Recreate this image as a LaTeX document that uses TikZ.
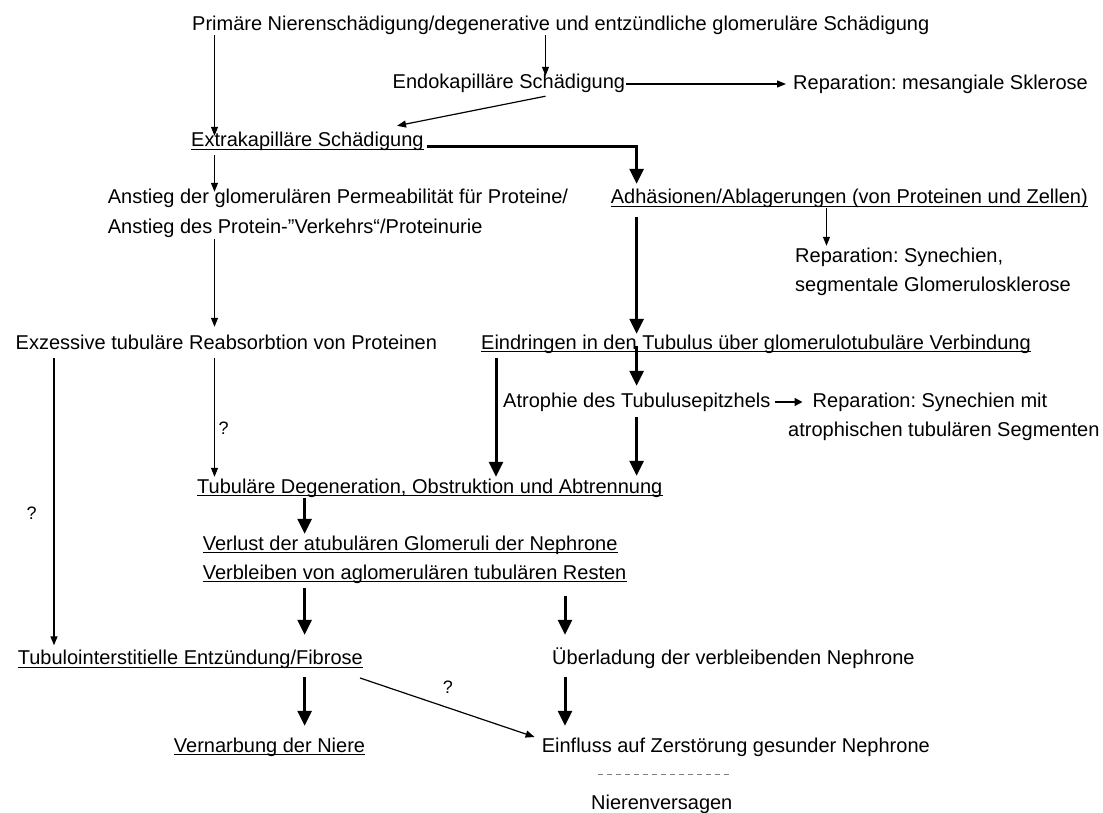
\documentclass[tikz,border=0pt]{standalone}
\usepackage{fontspec}
\setmainfont{Liberation Sans}
\usetikzlibrary{arrows.meta,calc}
\frenchspacing
\begin{document}
\begin{tikzpicture}[x=1pt,y=-1pt,
  lbl/.style={anchor=base west,inner sep=0pt,text height=14pt,text depth=4pt,font=\fontsize{20}{24}\selectfont},
  qm/.style={inner sep=0pt,font=\fontsize{18}{22}\selectfont},
  ta/.style={line width=1.2pt,-{Triangle[length=9pt,width=7pt]}},
  tk/.style={line width=3pt,-{Triangle[length=15pt,width=14pt]}},
  tm/.style={line width=1.5pt,-{Triangle[length=8pt,width=8pt]}},
  ulin/.style={line width=1pt},
  sep/.style={line width=1pt,gray,dash pattern=on 5pt off 4pt}]
\useasboundingbox (0,0) rectangle (1103,813);
% columns
\coordinate (xA) at (214.5,0);
\coordinate (xB) at (545.5,0);
\coordinate (xC) at (636.6,0);
\coordinate (xD) at (826.5,0);
\coordinate (xE) at (54,0);
\coordinate (xF) at (496,0);
\coordinate (xG) at (304.6,0);
\coordinate (xH) at (565,0);
\coordinate (xI) at (397,0);
% nodes
\node[lbl] (top) at (192,31) {Primäre Nierenschädigung/degenerative und entzündliche glomeruläre Schädigung};
\node[lbl] (endo) at (392.5,89) {Endokapilläre Schädigung};
\node[lbl] (repmes) at (793,90) {Reparation: mesangiale Sklerose};
\node[lbl] (extra) at (191,147) {Extrakapilläre Schädigung};
\node[lbl] (anst1) at (107.6,204) {Anstieg der glomerulären Permeabilität für Proteine/};
\node[lbl] (anst2) at (107.6,233.6) {Anstieg des Protein-”Verkehrs“/Proteinurie};
\node[lbl] (adh) at (610.6,204) {Adhäsionen/Ablagerungen (von Proteinen und Zellen)};
\node[lbl] (repsyn1) at (795,262) {Reparation: Synechien,};
\node[lbl] (repsyn2) at (795,291.6) {segmentale Glomerulosklerose};
\node[lbl] (exz) at (15.5,349) {Exzessive tubuläre Reabsorbtion von Proteinen};
\node[lbl] (eind) at (481,349) {Eindringen in den Tubulus über glomerulotubuläre Verbindung};
\node[lbl] (atr) at (503,407) {Atrophie des Tubulusepitzhels};
\node[lbl] (rsm1) at (812.5,407) {Reparation: Synechien mit};
\node[lbl] (rsm2) at (788,436) {atrophischen tubulären Segmenten};
\node[lbl] (tub) at (197,493) {Tubuläre Degeneration, Obstruktion und Abtrennung};
\node[lbl] (verl) at (202.6,550) {Verlust der atubulären Glomeruli der Nephrone};
\node[lbl] (verb) at (202.6,579) {Verbleiben von aglomerulären tubulären Resten};
\node[lbl] (tubulo) at (17.6,664.5) {Tubulointerstitielle Entzündung/Fibrose};
\node[lbl] (ueb) at (552,664.5) {Überladung der verbleibenden Nephrone};
\node[lbl] (vern) at (173.7,752) {Vernarbung der Niere};
\node[lbl] (einf) at (541.6,752) {Einfluss auf Zerstörung gesunder Nephrone};
\node[lbl] (nv) at (591,809.6) {Nierenversagen};
\node[qm] (q1) at (223.7,428) {?};
\node[qm] (q2) at (31.6,513) {?};
\node[qm] (q3) at (448,687) {?};
% underlines
\foreach \n in {extra,adh,eind,tub,verl,verb,tubulo,vern}
  \draw[ulin] ([yshift=-2.5pt]\n.base west) -- ([yshift=-2.5pt]\n.base east);
% separator
\coordinate (sl) at (598,774);
\coordinate (sr) at (731.5,774);
\draw[sep] (sl) -- (sr);
% connectors
\draw[ta,shorten >=-3pt] (top.south -| xA) -- (extra.north -| xA);
\draw[ta,shorten >=-1pt] (top.south -| xB) -- (endo.north -| xB);
\draw[ta,shorten <=1pt,shorten >=7pt] (endo.east) -- (endo.east -| repmes.west);
\draw[ta] ([yshift=-3pt]endo.south -| xB) -- ([yshift=7pt]extra.north -| xI);
\draw[tk,shorten >=6pt] ([xshift=3pt]extra.base east) -| (xC |- adh.north);
\draw[ta,shorten <=4pt,shorten >=-2pt] (extra.south -| xA) -- (anst1.north -| xA);
\draw[ta,shorten >=2pt] (adh.south -| xD) -- (repsyn1.north -| xD);
\draw[tk,shorten <=8.7pt,shorten >=1pt] (adh.south -| xC) -- (eind.north -| xC);
\draw[ta,shorten <=1pt,shorten >=8pt] (anst2.south -| xA) -- (exz.north -| xA);
\draw[ta,shorten <=5pt,shorten >=5pt] (exz.south -| xE) -- (tubulo.north -| xE);
\draw[ta,shorten <=5pt,shorten >=2pt] (exz.south -| xA) -- (tub.north -| xA);
\draw[tk,shorten <=5pt,shorten >=2pt] (eind.south -| xF) -- (tub.north -| xF);
\draw[tk,shorten <=-7pt,shorten >=7pt] (eind.south -| xC) -- (atr.north -| xC);
\draw[tm,shorten <=4pt,shorten >=10pt] (atr.east) -- (atr.east -| rsm1.west);
\draw[tk,shorten <=6pt,shorten >=3pt] (atr.south -| xC) -- (tub.north -| xC);
\draw[tk,shorten <=1pt,shorten >=2pt] (tub.south -| xG) -- (verl.north -| xG);
\draw[tk,shorten <=4.5pt,shorten >=15.5pt] (verb.south -| xG) -- (tubulo.north -| xG);
\draw[tk,shorten <=13pt,shorten >=15.5pt] (verb.south -| xH) -- (ueb.north -| xH);
\draw[tk,shorten <=8.5pt,shorten >=12pt] (tubulo.south -| xG) -- (vern.north -| xG);
\draw[tk,shorten <=8.5pt,shorten >=12pt] (ueb.south -| xH) -- (einf.north -| xH);
\draw[ta] ([shift={(-3pt,-13.5pt)}]tubulo.base east) -- ([shift={(-7pt,15pt)}]einf.base west);
\end{tikzpicture}
\end{document}
